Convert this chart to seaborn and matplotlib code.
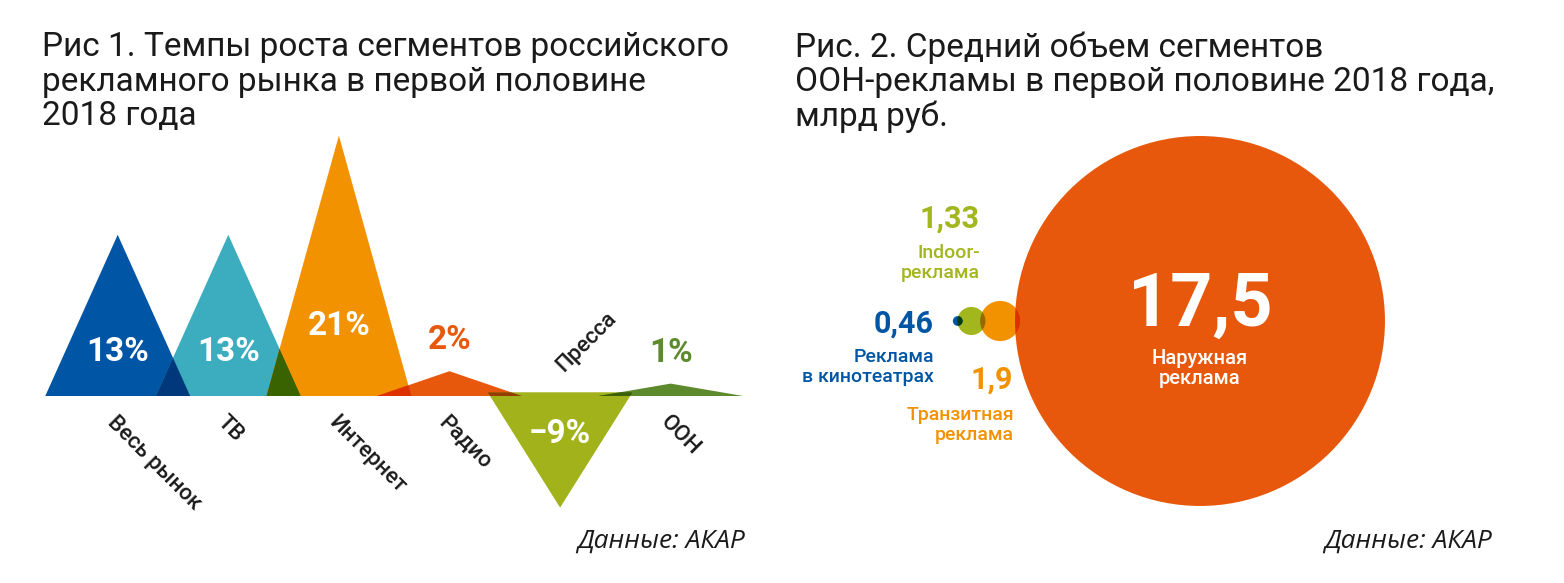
import numpy as np
import matplotlib
matplotlib.use("Agg")
import matplotlib.pyplot as plt
from matplotlib.patches import Polygon, Circle
from matplotlib.colors import to_rgb
import seaborn as sns

# Рис 1: темпы роста сегментов, %
segments = ['Весь рынок', 'ТВ', 'Интернет', 'Радио', 'Пресса', 'ООН']
growth = [13, 13, 21, 2, -9, 1]
growth_labels = ['13%', '13%', '21%', '2%', '−9%', '1%']
seg_colors = ['#0055A4', '#3CACBF', '#F39200', '#E8580C', '#A2B21A', '#5E8A2E']

# Рис 2: средний объем сегментов OOH, млрд руб
ooh_names = ['Наружная\nреклама', 'Транзитная\nреклама', 'Indoor-\nреклама', 'Реклама\nв кинотеатрах']
ooh_values = [17.5, 1.9, 1.33, 0.46]
ooh_labels = ['17,5', '1,9', '1,33', '0,46']
ooh_colors = ['#E8580C', '#F39200', '#A2B61E', '#0055A4']

sns.set_theme(style="white")
plt.rcParams['font.family'] = ['Roboto', 'DejaVu Sans']

W, H = 1564, 583
fig = plt.figure(figsize=(W / 100, H / 100), dpi=100)
fig.patch.set_facecolor('white')


def multiply(c1, c2):
    # overlap colour, like a "multiply" blend mode
    return tuple(np.array(to_rgb(c1)) * np.array(to_rgb(c2)))


def ftext(x, y, s, **kw):
    # place text by pixel position (from top-left)
    fig.text(x / W, 1 - y / H, s, **kw)


# ---------------------------------------------------------
# Left panel: triangles
ax1 = fig.add_axes([0, 0, 0.5, 1])
ax1.axis('off')
px_x, x0 = 110.6, 117.7   # px per category, px of first center
px_y, y0 = 12.4, 187      # px per %, baseline px from bottom
ax1.set_xlim(-x0 / px_x, (W / 2 - x0) / px_x)
ax1.set_ylim(-y0 / px_y, (H - y0) / px_y)

half = 0.655
tris = []
for i, v in enumerate(growth):
    base = 0.3 if v < 0 else 0
    pts = [(i - half, base), (i, v), (i + half, base)]
    p = Polygon(pts, closed=True, facecolor=seg_colors[i], edgecolor='none', zorder=2)
    ax1.add_patch(p)
    tris.append(pts)

# darker overlaps between neighbours
for i in range(len(growth) - 1):
    clip = Polygon(tris[i], closed=True, facecolor='none', edgecolor='none')
    ax1.add_patch(clip)
    ov = Polygon(tris[i + 1], closed=True, edgecolor='none', zorder=3,
                 facecolor=multiply(seg_colors[i], seg_colors[i + 1]))
    ax1.add_patch(ov)
    ov.set_clip_path(clip)

for i, (v, lab) in enumerate(zip(growth, growth_labels)):
    if v > 5:
        ax1.text(i, v * 0.27, lab, ha='center', va='center', color='white',
                 fontsize=24, fontweight='bold', zorder=5)
    elif v < -5:
        ax1.text(i, v * 0.34, lab, ha='center', va='center', color='white',
                 fontsize=24, fontweight='bold', zorder=5)
    else:
        ax1.text(i, v + 2.5, lab, ha='center', va='center', color=seg_colors[i],
                 fontsize=24, fontweight='bold', zorder=5)

for i, (v, name) in enumerate(zip(growth, segments)):
    if v < 0:
        ax1.text(i + 0.03, 1.9, name, rotation=45, rotation_mode='anchor',
                 ha='left', va='baseline', fontsize=16, fontweight='medium',
                 color='#1a1a1a')
    else:
        ax1.text(i, -1.3, name, rotation=-45, rotation_mode='anchor',
                 ha='left', va='top', fontsize=16, fontweight='medium',
                 color='#1a1a1a')

# ---------------------------------------------------------
# Right panel: bubbles, radius proportional to value
ax2 = fig.add_axes([0.5, 0, 0.5, 1])
ax2.axis('off')
k = 10.57                  # px per unit of radius
cx, cy = 1200 - W / 2, 262  # big circle center in axis px
ax2.set_xlim(-cx / k, (W / 2 - cx) / k)
ax2.set_ylim(-cy / k, (H - cy) / k)

overlap = 0.5
centers = [0.0]
for j in range(1, len(ooh_values)):
    centers.append(centers[-1] - ooh_values[j - 1] - ooh_values[j] + overlap)

for j, (c, r) in enumerate(zip(centers, ooh_values)):
    ax2.add_patch(Circle((c, 0), r, facecolor=ooh_colors[j], edgecolor='none', zorder=2))
for j in range(len(ooh_values) - 1):
    clip = Circle((centers[j], 0), ooh_values[j], facecolor='none', edgecolor='none')
    ax2.add_patch(clip)
    ov = Circle((centers[j + 1], 0), ooh_values[j + 1], edgecolor='none', zorder=3,
                facecolor=multiply(ooh_colors[j], ooh_colors[j + 1]))
    ax2.add_patch(ov)
    ov.set_clip_path(clip)

# big bubble labels
ax2.text(0, 1.4, ooh_labels[0], ha='center', va='center', color='white',
         fontsize=53, fontweight='bold', zorder=5)
ax2.text(0, -4.5, ooh_names[0], ha='center', va='center', color='white',
         fontsize=14.5, fontweight='medium', linespacing=1.1, zorder=5)

# small bubble labels
ftext(1013, 380, ooh_labels[1], ha='right', va='center', color=ooh_colors[1],
      fontsize=22, fontweight='bold')
ftext(1014, 425, ooh_names[1], ha='right', va='center', color=ooh_colors[1],
      fontsize=14, fontweight='medium', linespacing=1.1)
ftext(980, 219, ooh_labels[2], ha='right', va='center', color=ooh_colors[2],
      fontsize=22, fontweight='bold')
ftext(980, 263, ooh_names[2], ha='right', va='center', color=ooh_colors[2],
      fontsize=14, fontweight='medium', linespacing=1.1)
ftext(934, 324, ooh_labels[3], ha='right', va='center', color=ooh_colors[3],
      fontsize=22, fontweight='bold')
ftext(934, 367, ooh_names[3], ha='right', va='center', color=ooh_colors[3],
      fontsize=14, fontweight='medium', linespacing=1.1)

# ---------------------------------------------------------
# Titles and sources
ftext(42, 31, 'Рис 1. Темпы роста сегментов российского\nрекламного рынка в первой половине\n2018 года',
      ha='left', va='top', fontsize=24, color='#1a1a1a', linespacing=1.1)
ftext(795, 31, 'Рис. 2. Средний объем сегментов\nООН-рекламы в первой половине 2018 года,\nмлрд руб.',
      ha='left', va='top', fontsize=24, color='#1a1a1a', linespacing=1.1)
ftext(745, 541, 'Данные: АКАР', ha='right', va='center', fontsize=19,
      style='italic', family=['Open Sans', 'DejaVu Sans'], color='#1a1a1a')
ftext(1492, 541, 'Данные: АКАР', ha='right', va='center', fontsize=19,
      style='italic', family=['Open Sans', 'DejaVu Sans'], color='#1a1a1a')

fig.savefig('out.png', dpi=100, facecolor='white')
